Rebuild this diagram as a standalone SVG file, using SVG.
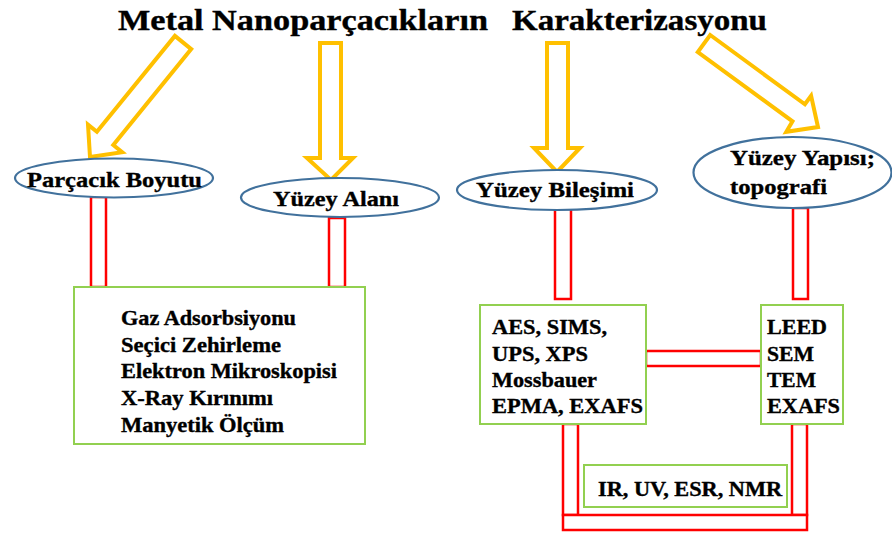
<svg xmlns="http://www.w3.org/2000/svg" width="892" height="536" viewBox="0 0 892 536">
  <style>
    text { font-family: "Liberation Serif", "Times New Roman", serif; font-weight: bold; fill: #000; stroke: #000; stroke-width: 0.35; }
    .title { font-size: 29px; }
    .lbl { font-size: 22px; }
    .box { font-size: 20.5px; }
    .ell { fill: #fff; stroke: #41719C; stroke-width: 2.2; }
    .grn { fill: #fff; stroke: #92D050; stroke-width: 2; }
    .red { fill: #fff; stroke: #FF0000; stroke-width: 2.5; }
    .arr { fill: #fff; stroke: #FFC000; stroke-width: 4; stroke-linejoin: miter; }
  </style>
  <rect width="892" height="536" fill="#fff"/>

  <g id="title">
    <text class="title" x="118" y="30" textLength="370" lengthAdjust="spacingAndGlyphs">Metal Nanoparçacıkların</text>
    <text class="title" x="512" y="30" textLength="255" lengthAdjust="spacingAndGlyphs">Karakterizasyonu</text>
  </g>

  <g id="connectors">
    <polygon class="arr" points="174.9,35.9 191.2,49.1 113.3,145.0 122.2,152.2 90,157 88.0,124.6 96.9,131.8"/>
    <polygon class="arr" points="320,43 341,43 341,158 353,158 331,180 307,158 320,158"/>
    <polygon class="arr" points="547,43 568,43 568,148 580,148 557,172 534,148 547,148"/>
    <polygon class="arr" points="710.2,35.0 804.9,104.3 811.1,95.8 818,127 786.3,131.8 792.5,121.3 697.8,52.0"/>

    <rect class="red" x="91" y="197" width="15" height="90"/>
    <rect class="red" x="329" y="218" width="16" height="69"/>
    <rect class="red" x="555" y="208" width="16" height="91"/>
    <rect class="red" x="793" y="208" width="15" height="91"/>
    <rect class="red" x="646" y="351" width="115" height="15"/>
    <rect class="red" x="563" y="424" width="15" height="91"/>
    <rect class="red" x="792" y="424" width="15" height="91"/>
    <rect class="red" x="563" y="515" width="244" height="15"/>
  </g>

  <g id="parcacik-boyutu">
    <ellipse class="ell" cx="114" cy="178" rx="99" ry="19.5"/>
    <text class="lbl" x="27" y="187" textLength="175" lengthAdjust="spacingAndGlyphs">Parçacık Boyutu</text>
  </g>

  <g id="yuzey-alani">
    <ellipse class="ell" cx="340" cy="197.5" rx="99" ry="19.5"/>
    <text class="lbl" x="273" y="206" textLength="126" lengthAdjust="spacingAndGlyphs">Yüzey Alanı</text>
  </g>

  <g id="yuzey-bilesimi">
    <ellipse class="ell" cx="557" cy="190" rx="100" ry="20"/>
    <text class="lbl" x="476" y="197" textLength="158" lengthAdjust="spacingAndGlyphs">Yüzey Bileşimi</text>
  </g>

  <g id="yuzey-yapisi">
    <ellipse class="ell" cx="792.5" cy="172.5" rx="99" ry="35.5"/>
    <text class="lbl" x="730" y="165" textLength="145" lengthAdjust="spacingAndGlyphs">Yüzey Yapısı;</text>
    <text class="lbl" x="730" y="194" textLength="97" lengthAdjust="spacingAndGlyphs">topografi</text>
  </g>

  <g id="yontemler-1">
    <rect class="grn" x="74" y="287" width="291" height="157"/>
    <text class="box" x="121" y="325" textLength="175" lengthAdjust="spacingAndGlyphs">Gaz Adsorbsiyonu</text>
    <text class="box" x="121" y="352" textLength="160" lengthAdjust="spacingAndGlyphs">Seçici Zehirleme</text>
    <text class="box" x="121" y="378" textLength="216" lengthAdjust="spacingAndGlyphs">Elektron Mikroskopisi</text>
    <text class="box" x="121" y="405" textLength="152" lengthAdjust="spacingAndGlyphs">X-Ray Kırınımı</text>
    <text class="box" x="121" y="432" textLength="163" lengthAdjust="spacingAndGlyphs">Manyetik Ölçüm</text>
  </g>

  <g id="yontemler-2">
    <rect class="grn" x="480" y="305" width="166" height="119"/>
    <text class="box" x="492" y="334" textLength="115" lengthAdjust="spacingAndGlyphs">AES, SIMS,</text>
    <text class="box" x="492" y="361" textLength="96" lengthAdjust="spacingAndGlyphs">UPS, XPS</text>
    <text class="box" x="492" y="387" textLength="105" lengthAdjust="spacingAndGlyphs">Mossbauer</text>
    <text class="box" x="492" y="413" textLength="151" lengthAdjust="spacingAndGlyphs">EPMA, EXAFS</text>
  </g>

  <g id="yontemler-3">
    <rect class="grn" x="761" y="305" width="82" height="119"/>
    <text class="box" x="767" y="334" textLength="60" lengthAdjust="spacingAndGlyphs">LEED</text>
    <text class="box" x="767" y="361" textLength="47" lengthAdjust="spacingAndGlyphs">SEM</text>
    <text class="box" x="767" y="387" textLength="49" lengthAdjust="spacingAndGlyphs">TEM</text>
    <text class="box" x="767" y="413" textLength="73" lengthAdjust="spacingAndGlyphs">EXAFS</text>
  </g>

  <g id="yontemler-4">
    <rect class="grn" x="584" y="465" width="203" height="42"/>
    <text class="box" x="598" y="496" textLength="184" lengthAdjust="spacingAndGlyphs">IR, UV, ESR, NMR</text>
  </g>
</svg>
